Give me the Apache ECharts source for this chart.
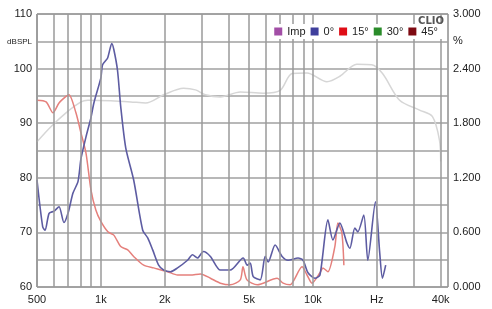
<!DOCTYPE html>
<html>
<head>
<meta charset="utf-8">
<script src="https://cdn.jsdelivr.net/npm/echarts@6/dist/echarts.min.js"></script>
<style>
  html, body { margin: 0; padding: 0; background: #fff; }
  #main { width: 492px; height: 309px; }
</style>
</head>
<body>
<div id="main"></div>
<script>
// frequency grid (Hz) and the labelled ones along the bottom
const gridFreqs = [500, 600, 700, 800, 900, 1000, 2000, 3000, 4000, 5000, 6000, 7000, 8000, 9000, 10000, 20000, 30000, 40000];
const tickFreqs = [500, 1000, 2000, 5000, 10000, 20000, 40000];
const tickLabels = ['500', '1k', '2k', '5k', '10k', 'Hz', '40k'];

const legendNames = ['Imp', '0°', '15°', '30°', '45°'];

// faded reference curve [Hz, dBSPL]
const refCurve = [
  [500, 86.6], [583, 89.4], [685, 91.9], [806, 93.9], [869, 94.2], [1114, 94.1], [1383, 93.9],
  [1627, 93.7], [1976, 95.2], [2453, 96.4], [2793, 96.1], [3112, 95.2], [3659, 94.8], [4542, 95.7],
  [5826, 95.5], [7000, 96.0], [7968, 99.1], [9372, 99.2], [11634, 97.6], [13390, 98.6], [16090, 100.8],
  [18920, 100.7], [21280, 99.1], [25620, 94.2], [31790, 92.4], [36590, 91.2], [39470, 86.9], [40000, 83.0]
];

// 0° [Hz, dBSPL]
const deg0 = [
  [500, 79.6], [532, 71.0], [546, 70.4], [570, 73.5], [602, 73.9], [635, 74.7], [670, 71.8], [700, 73.5],
  [739, 77.2], [780, 79.3], [806, 83.5], [851, 87.5], [898, 91.0], [927, 93.7], [1000, 98.3], [1019, 100.7],
  [1075, 101.9], [1126, 104.6], [1151, 103.5], [1198, 99.7], [1241, 93.0], [1310, 85.5], [1428, 79.6],
  [1575, 70.4], [1663, 69.0], [1755, 66.8], [1872, 64.0], [1976, 63.1], [2131, 62.8], [2299, 63.5],
  [2561, 64.9], [2703, 65.9], [2854, 65.3], [3045, 66.5], [3284, 65.6], [3659, 63.1], [4076, 63.1],
  [4688, 65.3], [4898, 64.0], [5060, 64.4], [5228, 61.9], [5640, 61.3], [5953, 65.6], [6148, 64.6],
  [6632, 67.7], [7153, 65.6], [7630, 64.9], [8503, 65.3], [8976, 64.9], [9474, 62.6], [10219, 61.6],
  [10786, 62.2], [11760, 72.3], [12410, 68.6], [13390, 71.7], [14440, 68.1], [14920, 67.1], [15750, 70.8],
  [16260, 70.1], [17360, 73.2], [18130, 64.9], [19700, 75.6], [20640, 66.2], [21250, 61.6], [22020, 64.0]
];

// 15° [Hz, dBSPL]
const deg15 = [
  [500, 94.2], [552, 93.9], [595, 91.9], [635, 93.7], [685, 94.9], [708, 95.2], [763, 91.9], [806, 88.2],
  [851, 84.5], [898, 77.8], [947, 74.1], [1000, 72.0], [1079, 70.1], [1151, 69.5], [1241, 67.4],
  [1339, 66.8], [1428, 65.6], [1592, 64.0], [1774, 63.5], [2064, 62.8], [2299, 62.2], [2645, 62.2],
  [2948, 62.4], [3284, 61.6], [3659, 60.7], [4076, 60.4], [4542, 61.3], [4677, 63.7], [4884, 61.3],
  [5460, 60.4], [6776, 61.6], [7231, 60.7], [7798, 60.4], [8879, 63.7], [9372, 62.2], [9892, 60.7],
  [10786, 62.6], [11140, 63.5], [11760, 62.8], [12680, 67.4], [13100, 71.7], [13680, 69.9], [13985, 64.0]
];
const deg30 = [];
const deg45 = [];
const imp = [];

const chart = echarts.init(document.getElementById('main'));

const gridLines = gridFreqs.map((f) => {
  const i = tickFreqs.indexOf(f);
  return {
    xAxis: f,
    label: { show: i >= 0, formatter: i >= 0 ? tickLabels[i] : '' },
  };
});

const txt = { color: '#222', fontSize: 11, fontFamily: 'Liberation Sans, Arial, sans-serif' };

chart.setOption({
  animation: false,
  backgroundColor: '#fff',
  title: {
    text: 'CLIO',
    right: 43,
    top: 11,
    z: 10,
    textStyle: { fontSize: 10, fontWeight: 'bold', color: '#555', fontFamily: 'DejaVu Sans' },
  },
  legend: {
    data: legendNames,
    right: 50,
    top: 24,
    z: 10,
    icon: 'rect',
    itemWidth: 8,
    itemHeight: 8,
    itemGap: 5,
    padding: [2, 4],
    backgroundColor: '#fff',
    textStyle: txt,
  },
  grid: {
    left: 37, right: 44, top: 14, bottom: 22,
    show: true, borderColor: '#555', borderWidth: 1,
  },
  xAxis: {
    type: 'log',
    logBase: 10,
    min: 500,
    max: 43300,
    axisLabel: { show: false },
    axisTick: { show: false },
    axisLine: { show: false },
    splitLine: { show: false },
  },
  yAxis: [
    {
      type: 'value',
      min: 60, max: 110, interval: 5,
      axisLine: { show: false },
      axisTick: { show: false },
      splitLine: { lineStyle: { color: '#a0a0a0', width: 1.5 } },
      axisLabel: {
        ...txt,
        margin: 5,
        formatter: (v) => (v % 10 === 0 ? String(v) : (v === 105 ? '{u|dBSPL}' : '')),
        rich: { u: { fontSize: 8, color: '#222', fontFamily: 'Liberation Sans' } },
      },
    },
    {
      type: 'value',
      position: 'right',
      min: 0, max: 3, interval: 0.3,
      axisLine: { show: false },
      axisTick: { show: false },
      splitLine: { show: false },
      axisLabel: {
        ...txt,
        margin: 5,
        formatter: (v) => {
          const k = Math.round(v * 10);
          if (k % 6 === 0) return v.toFixed(3);
          return k === 27 ? '%' : '';
        },
      },
    },
  ],
  series: [
    {
      name: 'ref',
      type: 'line',
      data: refCurve,
      showSymbol: false,
      smooth: 0.3,
      z: 2,
      lineStyle: { color: '#d6d6d6', width: 1.5 },
      markLine: {
        silent: true,
        symbol: 'none',
        animation: false,
        lineStyle: { color: '#9a9a9a', width: 1.5, type: 'solid' },
        label: { position: 'start', distance: 7, ...txt },
        emphasis: { disabled: true },
        data: gridLines,
      },
    },
    { name: 'Imp', type: 'line', data: imp, color: '#a24ea6', showSymbol: false },
    {
      name: '0°', type: 'line', data: deg0, color: '#3f3f9c', showSymbol: false, smooth: 0.25, z: 4,
      lineStyle: { color: '#5d5ca2', width: 1.6 },
    },
    {
      name: '15°', type: 'line', data: deg15, color: '#df0d16', showSymbol: false, smooth: 0.25, z: 3,
      lineStyle: { color: '#e5807c', width: 1.5 },
    },
    { name: '30°', type: 'line', data: deg30, color: '#2a8c2a', showSymbol: false },
    { name: '45°', type: 'line', data: deg45, color: '#7e0a12', showSymbol: false },
  ],
});
</script>
</body>
</html>
